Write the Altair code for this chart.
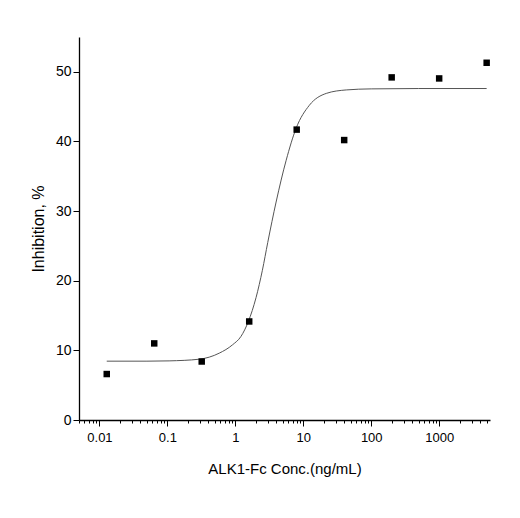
import altair as alt
import pandas as pd

# measured points
conc = [0.0128, 0.064, 0.32, 1.6, 8, 40, 200, 1000, 5000]
inhib = [6.6, 11.0, 8.4, 14.15, 41.7, 40.2, 49.2, 49.05, 51.3]

# fitted curve
fit_conc = [0.0128, 0.05, 0.106, 0.294, 0.58, 0.91, 1.21, 1.555, 2.02, 2.5,
            3.0, 3.98, 5.6, 7.85, 12.3, 21.8, 42.9, 100, 500, 5000]
fit_inhib = [8.45, 8.45, 8.49, 8.73, 9.6, 10.8, 12.0, 14.15, 17.6, 21.5,
             25.5, 31.3, 37.3, 41.9, 45.2, 46.9, 47.4, 47.55, 47.6, 47.6]

# axis tick values
x_ticks = [m * 10.0 ** e for e in range(-3, 4) for m in range(1, 10)]
x_ticks = [float(f"{v:.6g}") for v in x_ticks if 0.005 <= v <= 5600]
y_ticks = [0, 5, 10, 15, 20, 25, 30, 35, 40, 45, 50, 55]

pts = pd.DataFrame({"conc": conc, "inhib": inhib})
fit = pd.DataFrame({"conc": fit_conc, "inhib": fit_inhib})

is_decade = "abs(log(datum.value)/LN10 - round(log(datum.value)/LN10)) < 1e-6"

x_scale = alt.Scale(type="log", domain=[0.005, 5600], nice=False)
y_scale = alt.Scale(domain=[0, 55], nice=False, zero=True)

x_axis = alt.Axis(
    values=x_ticks,
    labelExpr=f"{is_decade} ? format(datum.value, '~g') : ''",
    tickSize={"condition": {"test": is_decade, "value": 6}, "value": 3},
    labelOverlap=False, labelFlush=False, grid=False,
    title="ALK1-Fc Conc.(ng/mL)", titleFontSize=15, titleFontWeight="normal",
    titlePadding=17, labelFontSize=13, labelPadding=5,
    domainColor="black", domainWidth=1.3, tickColor="black", tickWidth=1,
    labelColor="black", titleColor="black",
)
y_axis = alt.Axis(
    values=y_ticks,
    labelExpr="datum.value % 10 == 0 ? datum.label : ''",
    tickSize={"condition": {"test": "datum.value % 10 == 0", "value": 6}, "value": 3},
    labelOverlap=False, labelFlush=False, grid=False,
    title="Inhibition, %", titleFontSize=16, titleFontWeight="normal",
    titlePadding=9, labelFontSize=14, labelPadding=2,
    domainColor="black", domainWidth=1.3, tickColor="black", tickWidth=1,
    labelColor="black", titleColor="black",
)

line = alt.Chart(fit).mark_line(color="#555555", strokeWidth=1, interpolate="monotone").encode(
    x=alt.X("conc:Q", scale=x_scale, axis=x_axis),
    y=alt.Y("inhib:Q", scale=y_scale, axis=y_axis),
)
points = alt.Chart(pts).mark_point(shape="square", filled=True, size=42, color="black", opacity=1).encode(
    x=alt.X("conc:Q", scale=x_scale),
    y=alt.Y("inhib:Q", scale=y_scale),
)

chart = (line + points).properties(
    width=411, height=383,
    autosize=alt.AutoSizeParams(type="none"),
    padding={"left": 71, "top": 29, "right": 22, "bottom": 90},
).configure(font="Liberation Sans").configure_view(stroke=None)

chart.save("out.html", embed_options={"renderer": "svg", "actions": False})
